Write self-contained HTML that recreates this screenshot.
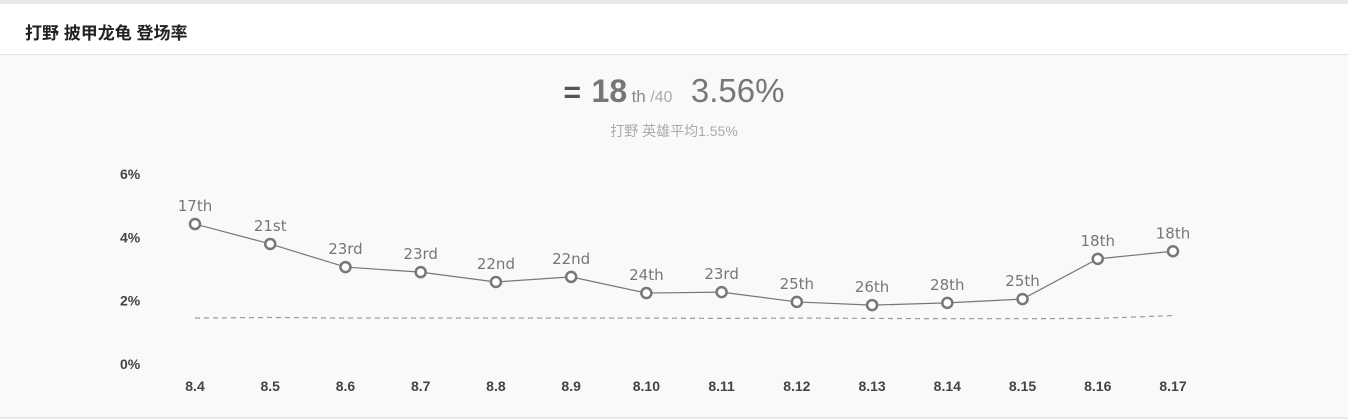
<!DOCTYPE html>
<html><head><meta charset="utf-8"><style>
body{margin:0;width:1348px;height:419px;background:#f9f9f9;font-family:"Liberation Sans","Noto Sans CJK SC",sans-serif;overflow:hidden;position:relative}
.top{position:absolute;left:0;top:0;width:1348px;height:4px;background:#e8e8e8}
.hdr{position:absolute;left:0;top:4px;width:1348px;height:50px;background:#fff;border-bottom:1px solid #e3e3e3}
.hdr h1{margin:0;position:absolute;left:25px;top:15px;font-size:17px;font-weight:bold;color:#222}
.sum{position:absolute;left:0;width:1348px;text-align:center;color:#777}
</style></head><body>
<div class="top"></div>
<div class="hdr"><h1>打野 披甲龙龟 登场率</h1></div>
<div class="sum" style="top:72px">
<span style="font-size:30px;color:#555;font-weight:bold">=</span>
<span style="font-size:32px;font-weight:bold;color:#777;margin-left:6px">18</span>
<span style="font-size:17px;color:#888">th</span><span style="font-size:16px;color:#aaa"> /40</span>
<span style="font-size:33px;color:#777;margin-left:14px">3.56%</span></div>
<div class="sum" style="top:121px;font-size:14px;color:#aaa">打野 英雄平均1.55%</div>
<svg id="c" width="1348" height="419" style="position:absolute;left:0;top:0"></svg>
<script>
const categories=["8.4","8.5","8.6","8.7","8.8","8.9","8.10","8.11","8.12","8.13","8.14","8.15","8.16","8.17"];
const values=[4.42,3.79,3.06,2.90,2.59,2.75,2.24,2.27,1.96,1.86,1.93,2.05,3.32,3.56];
const avgValues=[1.45,1.47,1.45,1.45,1.45,1.45,1.45,1.44,1.45,1.44,1.43,1.43,1.44,1.53];
const ranks=["17th","21st","23rd","23rd","22nd","22nd","24th","23rd","25th","26th","28th","25th","18th","18th"];
const yTicks=[0,2,4,6];
const NS="http://www.w3.org/2000/svg",svg=document.getElementById('c');
const x=i=>195+i*75.23, y=v=>364-v*31.67;
function el(t,a){const e=document.createElementNS(NS,t);for(const k in a)e.setAttribute(k,a[k]);svg.appendChild(e);return e;}
yTicks.forEach(t=>{const e=el('text',{x:120,y:y(t)+5,'font-size':14,'font-weight':'bold',fill:'#444'});e.textContent=t+'%';

});
categories.forEach((c,i)=>{const e=el('text',{x:x(i),y:391,'text-anchor':'middle','font-size':14,'font-weight':'bold',fill:'#444'});e.textContent=c;

});
const a=el('polyline',{points:avgValues.map((v,i)=>x(i)+','+y(v)).join(' '),fill:'none',stroke:'#999','stroke-dasharray':'5,4','stroke-width':1.2});


const l=el('polyline',{points:values.map((v,i)=>x(i)+','+y(v)).join(' '),fill:'none',stroke:'#777','stroke-width':1.2});


values.forEach((v,i)=>{const p=el('circle',{cx:x(i),cy:y(v),r:5,fill:'#fff',stroke:'#777','stroke-width':2.5});


const t=el('text',{x:x(i),y:y(v)-13,'text-anchor':'middle','font-size':15,fill:'#777','font-family':'DejaVu Sans, sans-serif'});t.textContent=ranks[i];

});
const b=el('rect',{x:0,y:417,width:1348,height:2,fill:'#e8e8e8'});


</script>
</body></html>
